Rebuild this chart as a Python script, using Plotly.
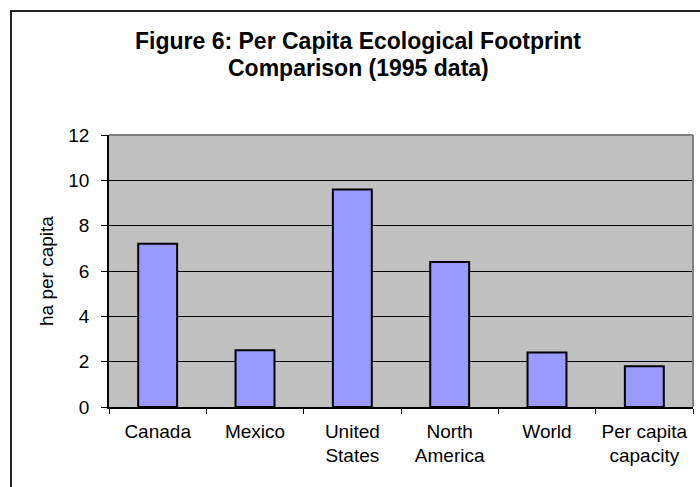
import plotly.graph_objects as go

# Per capita ecological footprint, 1995 (hectares per person)
categories = ["Canada", "Mexico", "United<br>States", "North<br>America", "World", "Per capita<br>capacity"]
footprint = [7.2, 2.5, 9.6, 6.4, 2.4, 1.8]
y_ticks = [0, 2, 4, 6, 8, 10, 12]

FONT = "Liberation Sans, Arial, sans-serif"

# plot-area geometry in pixels
W, H = 700, 487
L, R, T, B = 109, 7, 135, 80
PW, PH = W - L - R, H - T - B


def px_x(x):
    return (x - L) / PW


def px_y(y):
    return (H - B - y) / PH


fig = go.Figure(
    go.Bar(
        x=categories,
        y=footprint,
        marker=dict(color="#9999FF", line=dict(color="#000000", width=2)),
        hoverinfo="x+y",
    )
)

fig.update_layout(
    width=W,
    height=H,
    margin=dict(l=L, r=R, t=T, b=B, pad=0),
    paper_bgcolor="#FFFFFF",
    plot_bgcolor="#C0C0C0",
    bargap=0.6,
    showlegend=False,
    font=dict(family=FONT, size=19, color="#000000"),
    xaxis=dict(
        type="category",
        tickson="boundaries",
        ticks="outside",
        ticklen=5,
        tickcolor="#000000",
        tickfont=dict(size=19),
        showline=True,
        linecolor="#000000",
        linewidth=1.5,
        showgrid=False,
        zeroline=False,
        ticklabelstandoff=6,
        mirror=False,
    ),
    yaxis=dict(
        range=[0, 12],
        tickvals=y_ticks,
        ticks="outside",
        ticklen=6,
        tickcolor="#000000",
        tickfont=dict(size=19),
        showline=True,
        linecolor="#000000",
        linewidth=1.5,
        showgrid=True,
        gridcolor="#000000",
        gridwidth=1,
        zeroline=False,
        ticklabelstandoff=8,
    ),
    shapes=[
        # grey plot-area frame on the top and right edges
        dict(type="line", xref="paper", yref="paper", x0=0, x1=1, y0=1, y1=1,
             line=dict(color="#808080", width=2), layer="above"),
        dict(type="line", xref="paper", yref="paper", x0=1, x1=1, y0=0, y1=1,
             line=dict(color="#808080", width=2), layer="above"),
        # outer chart frame
        dict(type="rect", xref="paper", yref="paper",
             x0=px_x(11), x1=px_x(712), y0=px_y(11), y1=px_y(500),
             line=dict(color="#222222", width=2), fillcolor="rgba(0,0,0,0)"),
    ],
    annotations=[
        dict(text="<b>Figure 6: Per Capita Ecological Footprint</b>",
             xref="paper", yref="paper", x=px_x(358), y=px_y(41),
             xanchor="center", yanchor="middle", showarrow=False,
             font=dict(size=23, family=FONT)),
        dict(text="<b>Comparison (1995 data)</b>",
             xref="paper", yref="paper", x=px_x(358), y=px_y(68),
             xanchor="center", yanchor="middle", showarrow=False,
             font=dict(size=23, family=FONT)),
        dict(text="ha per capita", textangle=-90,
             xref="paper", yref="paper", x=px_x(46), y=0.5,
             xanchor="center", yanchor="middle", showarrow=False,
             font=dict(size=19, family=FONT)),
    ],
)

fig.write_html("out.html")
